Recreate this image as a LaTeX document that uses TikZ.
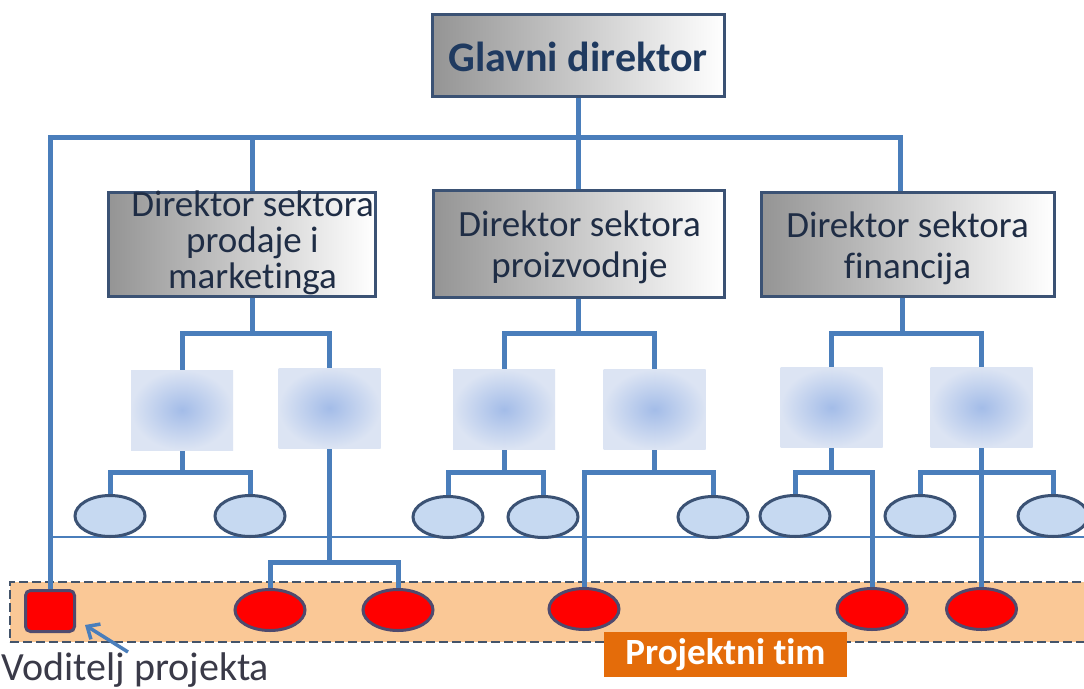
\documentclass[tikz,border=0pt]{standalone}
\usepackage{fontspec}
\setmainfont{Carlito}[Ligatures=NoCommon]
\usetikzlibrary{arrows.meta,shapes.geometric,calc}
\definecolor{connc}{HTML}{4A7EBB}
\definecolor{bord}{HTML}{3B5274}
\definecolor{ellc}{HTML}{C6D9F1}
\definecolor{redb}{HTML}{4F4A6E}
\definecolor{bandc}{HTML}{FAC896}
\definecolor{bandb}{HTML}{44546A}
\definecolor{orng}{HTML}{E46C0A}
\definecolor{navy}{HTML}{1F3A60}
\definecolor{dtxt}{HTML}{1F2D45}
\definecolor{vtxt}{HTML}{3A3A48}
\definecolor{sinner}{HTML}{A3BCE8}
\definecolor{souter}{HTML}{DCE4F3}
\pgfdeclarelayer{bandlayer}
\pgfdeclarelayer{background}
\pgfsetlayers{bandlayer,background,main}
\begin{document}
\begin{tikzpicture}[x=1pt,y=-1pt,
  conn/.style={draw=connc,line width=5pt},
  thinline/.style={draw=connc,line width=1.2pt},
  dirbox/.style={draw=bord,line width=3pt,left color=black!42,right color=white,inner sep=0pt},
  gdtext/.style={text=navy,font=\bfseries\fontsize{42}{42}\selectfont,inner sep=0pt},
  dtext/.style={text=dtxt,font=\fontsize{37}{36}\selectfont,align=center,inner sep=0pt},
  dtexttwo/.style={text=dtxt,font=\fontsize{37}{41}\selectfont,align=center,inner sep=0pt},
  sbox/.style={inner color=sinner,outer color=souter,minimum width=102pt,minimum height=80pt,inner sep=0pt},
  bell/.style={ellipse,draw=bord,fill=ellc,line width=3pt,minimum width=70pt,minimum height=41pt,inner sep=0pt},
  rell/.style={ellipse,draw=redb,fill=red,line width=3pt,minimum width=70pt,minimum height=41pt,inner sep=0pt},
  pmbox/.style={draw=redb,fill=red,line width=3pt,rounded corners=5pt,minimum width=49pt,minimum height=41pt,inner sep=0pt},
  bandbox/.style={draw=bandb,fill=bandc,line width=2.5pt,dash pattern=on 9pt off 4pt,minimum width=1084pt,minimum height=60pt,inner sep=0pt},
  ptlabel/.style={fill=orng,text=white,font=\bfseries\fontsize{37}{37}\selectfont,minimum width=243pt,minimum height=45pt,inner sep=0pt},
  vtext/.style={text=vtxt,font=\fontsize{40}{40}\selectfont,inner sep=0pt},
  varrow/.style={draw=connc,line width=3.5pt,-{Straight Barb[length=10pt,width=18pt]}}
]
\useasboundingbox (0,0) rectangle (1084,688);

% band
\begin{pgfonlayer}{bandlayer}
\fill[white] (0,0) rectangle (1084,688);
\node[bandbox] (band) at (552,612) {};
\end{pgfonlayer}

% top and directors
\node[dirbox,minimum width=292pt,minimum height=82pt] (gd) at (578,55) {};
\node[gdtext] (gdt) at ($(gd)+(0,2)$) {Glavni direktor};
\node[dirbox,minimum width=267pt,minimum height=104pt] (d1) at (241.5,244) {};
\node[dtext] (d1t) at ($(d1)+(11,-1)$) {Direktor sektora\\prodaje i\\marketinga};
\node[dirbox,minimum width=291pt,minimum height=107pt] (d2) at (578.5,243.5) {};
\node[dtexttwo] (d2t) at ($(d2)+(1,4)$) {Direktor sektora\\proizvodnje};
\node[dirbox,minimum width=293pt,minimum height=104pt] (d3) at (907.5,244) {};
\node[dtexttwo] (d3t) at ($(d3)+(0,4)$) {Direktor sektora\\financija};

% sub boxes
\node[sbox] (s1) at (182,410) {};
\node[sbox] (s2) at (329.5,408) {};
\node[sbox] (s3) at (504,409.5) {};
\node[sbox] (s4) at (654.5,409.5) {};
\node[sbox] (s5) at (831.5,407.5) {};
\node[sbox] (s6) at (981.5,407.5) {};

% blue ellipses
\node[bell] (b1) at (110,516) {};
\node[bell] (b2) at (250,516) {};
\node[bell] (b3) at (448,517) {};
\node[bell] (b4) at (543,517) {};
\node[bell] (b5) at (713,517) {};
\node[bell] (b6) at (795,516) {};
\node[bell] (b7) at (920,516) {};
\node[bell] (b8) at (1053,516) {};

% project team
\node[pmbox] (pm) at (50,611) {};
\node[rell] (r1) at (270,610) {};
\node[rell] (r2) at (398,610) {};
\node[rell] (r3) at (584,609) {};
\node[rell] (r4) at (872,609) {};
\node[rell] (r5) at (981.5,609) {};

\node[ptlabel] (pt) at (725.5,654.5) {Projektni tim};
\node[vtext,anchor=base west] (vp) at (1,680) {Voditelj projekta};
\coordinate (vpa) at (128,652);
\draw[varrow] (vpa) -- ($(pm.south east)+(9,-8)$);

% connectors
\coordinate (busL) at (45,137);
\coordinate (j2) at (0,333);
\coordinate (j3) at (0,472);
\coordinate (j4) at (0,562);
\coordinate (tlL) at (52,537);
\coordinate (tlR) at (1084,537);
\coordinate (d1n) at ($(d1.north)+(11,0)$);
\coordinate (d1s) at ($(d1.south)+(11,0)$);
\coordinate (d3n) at ($(d3.north)+(-7,0)$);
\coordinate (d3s) at ($(d3.south)+(-5,0)$);
\begin{pgfonlayer}{background}
\draw[thinline] (tlL) -- (tlR);
\draw[conn] (pm.north) -- (pm.north |- busL) -- (busL -| d3n) -- (d3n);
\draw[conn] (gd.south) -- (gd.south |- busL);
\draw[conn] (d1n) -- (d1n |- busL);
\draw[conn] (d2.north) -- (d2.north |- busL);

\draw[conn] (d1s) -- (d1s |- j2);
\draw[conn] (s1.north) -- (s1.north |- j2) -- (s2.north |- j2) -- (s2.north);
\draw[conn] (d2.south) -- (d2.south |- j2);
\draw[conn] (s3.north) -- (s3.north |- j2) -- (s4.north |- j2) -- (s4.north);
\draw[conn] (d3s) -- (d3s |- j2);
\draw[conn] (s5.north) -- (s5.north |- j2) -- (s6.north |- j2) -- (s6.north);

\draw[conn] (s1.south) -- (s1.south |- j3);
\draw[conn] (b1.north) -- (b1.north |- j3) -- (b2.north |- j3) -- (b2.north);
\draw[conn] (s2.south) -- (s2.south |- j4);
\draw[conn] (r1.north) -- (r1.north |- j4) -- (r2.north |- j4) -- (r2.north);
\draw[conn] (s3.south) -- (s3.south |- j3);
\draw[conn] (b3.north) -- (b3.north |- j3) -- (b4.north |- j3) -- (b4.north);
\draw[conn] (s4.south) -- (s4.south |- j3);
\draw[conn] (r3.north) -- (r3.north |- j3) -- (b5.north |- j3) -- (b5.north);
\draw[conn] (s5.south) -- (s5.south |- j3);
\draw[conn] (b6.north) -- (b6.north |- j3) -- (r4.north |- j3) -- (r4.north);
\draw[conn] (s6.south) -- (r5.north);
\draw[conn] (b7.north) -- (b7.north |- j3) -- (b8.north |- j3) -- (b8.north);
\end{pgfonlayer}
\end{tikzpicture}
\end{document}
